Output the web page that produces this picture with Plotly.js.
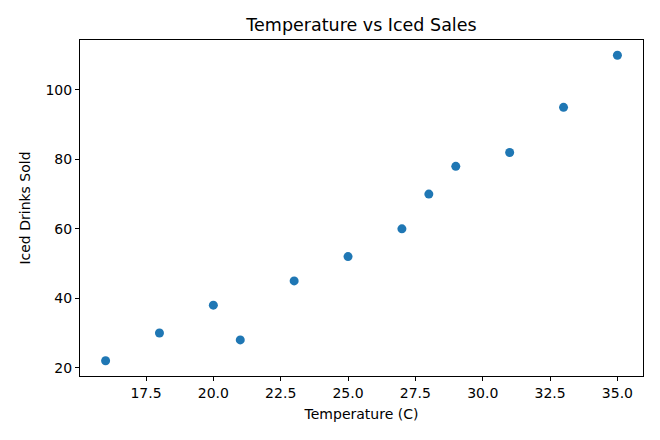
<!DOCTYPE html>
<html>
<head>
<meta charset="utf-8">
<script src="https://cdn.plot.ly/plotly-3.0.1.min.js"></script>
<style>
  html, body { margin: 0; padding: 0; background: #fff; }
  #chart { width: 660px; height: 440px; }
</style>
</head>
<body>
<div id="chart"></div>
<script>
// Daily temperature and number of iced drinks sold
const temperature = [16, 18, 20, 21, 23, 25, 27, 28, 29, 31, 33, 35];
const icedSold = [22, 30, 38, 28, 45, 52, 60, 70, 78, 82, 95, 110];

const xTicks = [17.5, 20.0, 22.5, 25.0, 27.5, 30.0, 32.5, 35.0];
const yTicks = [20, 40, 60, 80, 100];

const FONT = 'DejaVu Sans, sans-serif';

const trace = {
  type: 'scatter',
  mode: 'markers',
  x: temperature,
  y: icedSold,
  marker: { color: '#1f77b4', size: 9, line: { width: 0 } },
  hoverinfo: 'x+y'
};

const axisCommon = {
  showgrid: false,
  zeroline: false,
  showline: true,
  mirror: true,
  linecolor: '#000',
  linewidth: 1,
  ticks: 'outside',
  ticklen: 4,
  tickwidth: 1,
  tickcolor: '#000',
  tickfont: { family: FONT, size: 14, color: '#000' }
};

// 5% padding on each side of the data range
function padded(vals) {
  const lo = Math.min(...vals), hi = Math.max(...vals), p = (hi - lo) * 0.05;
  return [lo - p, hi + p];
}

const layout = {
  width: 660,
  height: 440,
  paper_bgcolor: '#fff',
  plot_bgcolor: '#fff',
  margin: { l: 80, r: 17, t: 40, b: 64 },
  showlegend: false,
  title: {
    text: 'Temperature vs Iced Sales',
    font: { family: FONT, size: 17.5, color: '#000' },
    x: 0.5,
    xanchor: 'center',
    xref: 'paper',
    y: 1 - 25 / 440,
    yref: 'container',
    yanchor: 'middle'
  },
  xaxis: Object.assign({}, axisCommon, {
    range: padded(temperature),
    tickvals: xTicks,
    ticktext: xTicks.map(v => v.toFixed(1)),
    title: { text: 'Temperature (C)', font: { family: FONT, size: 14, color: '#000' }, standoff: 9 }
  }),
  yaxis: Object.assign({}, axisCommon, {
    range: padded(icedSold),
    tickvals: yTicks,
    ticktext: yTicks.map(String),
    title: { text: 'Iced Drinks Sold', font: { family: FONT, size: 14, color: '#000' }, standoff: 11 }
  })
};

Plotly.newPlot('chart', [trace], layout, { displayModeBar: false, staticPlot: true });
</script>
</body>
</html>
